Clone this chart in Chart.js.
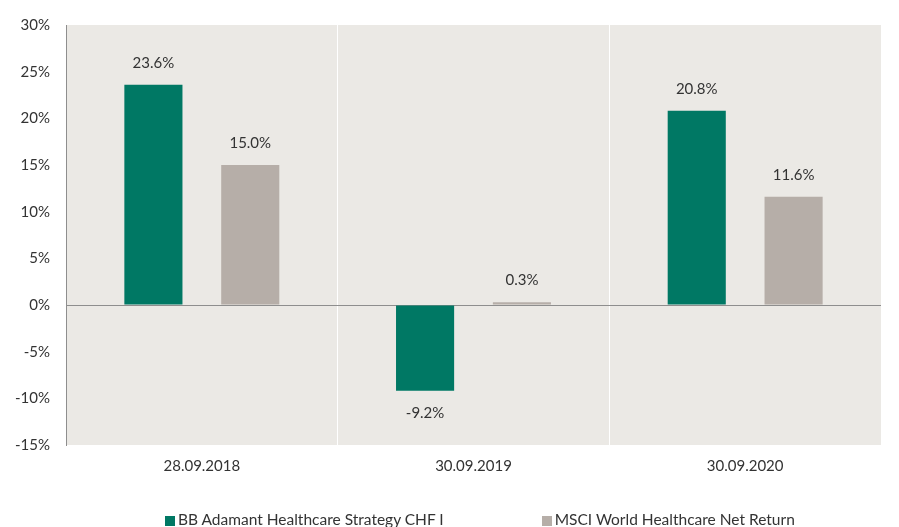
<!DOCTYPE html>
<html>
<head>
<meta charset="utf-8">
<script src="https://cdn.jsdelivr.net/npm/chart.js@4"></script>
<style>
  body { margin: 0; background: #fff; }
  #wrap { width: 899px; height: 527px; position: relative; overflow: hidden; }
  #legend {
    position: absolute; left: 165px; top: 509px;
    display: flex; gap: 98px;
    font: 15.5px Lato, "Open Sans", sans-serif; color: #333;
    line-height: 20px; white-space: nowrap;
  }
  #legend span.box {
    display: inline-block; width: 10px; height: 10px; margin-right: 3px;
    vertical-align: -1px;
  }
</style>
</head>
<body>
<div id="wrap"><canvas id="chart"></canvas><div id="legend"></div></div>
<script>
const categories = ["28.09.2018", "30.09.2019", "30.09.2020"];
const fundValues = [23.6, -9.2, 20.8];
const indexValues = [15.0, 0.3, 11.6];
const seriesNames = ["BB Adamant Healthcare Strategy CHF I", "MSCI World Healthcare Net Return"];
const seriesColors = ["#007864", "#B6AEA8"];
const yTicks = [-15, -10, -5, 0, 5, 10, 15, 20, 25, 30];

const FONT = "Lato, 'Open Sans', sans-serif";
const TEXT = "#333333";

// grey plot background
const areaBg = {
  id: "areaBg",
  beforeDraw(chart) {
    const { ctx, chartArea: a } = chart;
    ctx.save();
    ctx.fillStyle = "#EBE9E5";
    ctx.fillRect(a.left, a.top, a.right - a.left, a.bottom - a.top);
    ctx.restore();
  },
};

// value labels above / below bars
const barLabels = {
  id: "barLabels",
  afterDatasetsDraw(chart) {
    const ctx = chart.ctx;
    ctx.save();
    ctx.font = "15px " + FONT;
    ctx.fillStyle = TEXT;
    ctx.textAlign = "center";
    ctx.textBaseline = "middle";
    chart.data.datasets.forEach((ds, i) => {
      chart.getDatasetMeta(i).data.forEach((bar, j) => {
        const v = ds.data[j];
        const y = v >= 0 ? bar.y - 22 : bar.y + 22;
        ctx.fillText(v.toFixed(1) + "%", bar.x, y);
      });
    });
    ctx.restore();
  },
};

const chart = new Chart(document.getElementById("chart"), {
  type: "bar",
  data: {
    labels: categories,
    datasets: seriesNames.map((name, i) => ({
      label: name,
      data: i === 0 ? fundValues : indexValues,
      backgroundColor: seriesColors[i],
      categoryPercentage: 0.713,
      barPercentage: 0.6,
    })),
  },
  plugins: [areaBg, barLabels],
  options: {
    responsive: true,
    maintainAspectRatio: false,
    animation: false,
    layout: { padding: { top: 16, right: 18, left: 0, bottom: 40 } },
    plugins: {
      tooltip: { enabled: false },
      legend: { display: false },
    },
    scales: {
      x: {
        offset: true,
        grid: {
          offset: true,
          color: "#ffffff",
          lineWidth: 1,
          drawTicks: false,
        },
        border: { display: false },
        ticks: {
          color: TEXT,
          font: { family: FONT, size: 15 },
          padding: 12,
        },
      },
      y: {
        min: -15,
        max: 30,
        afterBuildTicks(scale) {
          scale.ticks = yTicks.map((v) => ({ value: v }));
        },
        afterFit(scale) {
          scale.width = 66;
        },
        grid: {
          color: (c) => (c.tick && c.tick.value === 0 ? "#8E8E8E" : "rgba(0,0,0,0)"),
          drawTicks: false,
        },
        border: { display: true, color: "#8E8E8E" },
        ticks: {
          color: TEXT,
          font: { family: FONT, size: 15 },
          padding: 16,
          callback: (v) => v + "%",
        },
      },
    },
  },
});

// html legend
const legend = document.getElementById("legend");
chart.data.datasets.forEach((ds) => {
  const item = document.createElement("div");
  const box = document.createElement("span");
  box.className = "box";
  box.style.background = ds.backgroundColor;
  item.appendChild(box);
  item.appendChild(document.createTextNode(ds.label));
  legend.appendChild(item);
});
</script>
</body>
</html>
